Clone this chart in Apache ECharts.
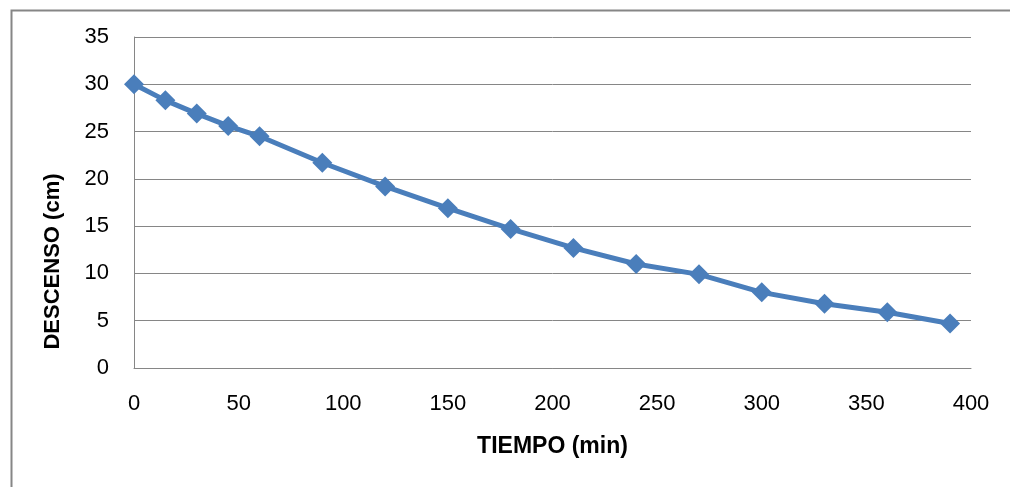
<!DOCTYPE html>
<html>
<head>
<meta charset="utf-8">
<script src="https://cdn.jsdelivr.net/npm/echarts@6/dist/echarts.min.js"></script>
<style>html,body{margin:0;padding:0;background:#fff;}#c{width:1010px;height:487px;}</style>
</head>
<body>
<div id="c"></div>
<script>
const tiempo = [0, 15, 30, 45, 60, 90, 120, 150, 180, 210, 240, 270, 300, 330, 360, 390];
const descenso = [30, 28.3, 26.9, 25.6, 24.5, 21.7, 19.2, 16.9, 14.7, 12.7, 11.0, 9.9, 8.0, 6.8, 5.9, 4.7];
const xAxisTitle = 'TIEMPO (min)';
const yAxisTitle = 'DESCENSO (cm)';

const font = '"Liberation Sans", Arial, sans-serif';
const chart = echarts.init(document.getElementById('c'));
chart.setOption({
  animation: false,
  backgroundColor: '#fff',
  graphic: [{
    type: 'rect', left: 9, top: 8, z: -1,
    shape: { width: 1100, height: 600 },
    style: { fill: 'none', stroke: '#868686', lineWidth: 2 }
  }],
  grid: { left: 134, right: 39, top: 37, bottom: 119 },
  xAxis: {
    type: 'value', min: 0, max: 400, interval: 50,
    name: xAxisTitle, nameLocation: 'middle', nameGap: 67,
    nameTextStyle: { fontFamily: font, fontSize: 23, fontWeight: 'bold', color: '#000' },
    axisLine: { show: true, lineStyle: { color: '#868686', width: 1 } },
    axisTick: { show: false },
    axisLabel: { margin: 25, fontFamily: font, fontSize: 22, color: '#000' },
    splitLine: { show: false }
  },
  yAxis: {
    type: 'value', min: 0, max: 35, interval: 5,
    name: yAxisTitle, nameLocation: 'middle', nameGap: 70,
    nameTextStyle: { fontFamily: font, fontSize: 22, fontWeight: 'bold', color: '#000', padding: [0, 118, 0, 0] },
    axisLine: { show: true, lineStyle: { color: '#868686', width: 1 } },
    axisTick: { show: false },
    axisLabel: { margin: 25, fontFamily: font, fontSize: 22, color: '#000' },
    splitLine: { show: true, lineStyle: { color: '#868686', width: 1 } }
  },
  series: [{
    type: 'line',
    data: tiempo.map((t, i) => [t, descenso[i]]),
    symbol: 'diamond', symbolSize: 20,
    lineStyle: { color: '#4a7ebb', width: 5 },
    itemStyle: { color: '#4a7ebb' }
  }]
});
</script>
</body>
</html>
